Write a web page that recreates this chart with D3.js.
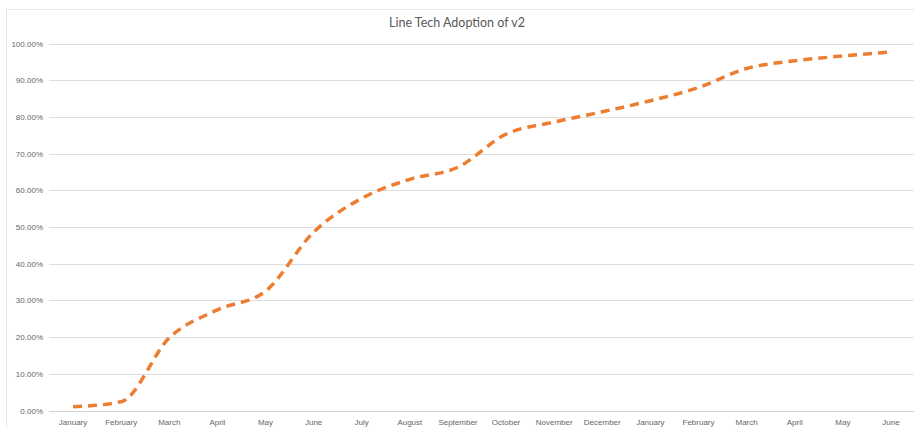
<!DOCTYPE html>
<html>
<head>
<meta charset="utf-8">
<script src="https://cdn.jsdelivr.net/npm/d3@7"></script>
<style>
  html, body { margin: 0; padding: 0; background: #fff; }
  svg { display: block; font-family: Lato, "Open Sans", "Liberation Sans", sans-serif; }
</style>
</head>
<body>
<svg id="chart" width="914" height="427"></svg>
<script>
// Month labels along the category axis (eighteen months, Jan through the following Jun)
const months = [
  "January", "February", "March", "April", "May", "June",
  "July", "August", "September", "October", "November", "December",
  "January", "February", "March", "April", "May", "June"
];
// Cumulative adoption share of v2, as a fraction
const adoption = [
  0.010, 0.024, 0.198, 0.274, 0.325, 0.486,
  0.578, 0.630, 0.663, 0.753, 0.786, 0.814,
  0.844, 0.880, 0.932, 0.953, 0.966, 0.977
];
// Value axis ticks
const yTicks = [0, 0.1, 0.2, 0.3, 0.4, 0.5, 0.6, 0.7, 0.8, 0.9, 1.0];

const svg = d3.select("#chart");
const W = 914, H = 427;
const plot = { left: 49, right: 915, top: 43.5, bottom: 410.5 };

// Chart area outline
svg.append("path")
  .attr("d", `M6.5,${H} V9.5 H${W}`)
  .attr("fill", "none")
  .attr("stroke", "#e6e6e6")
  .attr("stroke-width", 1);

const x = d3.scaleBand()
  .domain(d3.range(months.length))
  .range([plot.left, plot.right]);

const y = d3.scaleLinear()
  .domain([0, 1])
  .range([plot.bottom, plot.top]);

// Horizontal gridlines
svg.append("g")
  .selectAll("line")
  .data(yTicks)
  .join("line")
  .attr("x1", plot.left)
  .attr("x2", W)
  .attr("y1", d => Math.round(y(d)) + 0.5)
  .attr("y2", d => Math.round(y(d)) + 0.5)
  .attr("stroke", d => d === 0 ? "#d0d0d0" : "#dedede")
  .attr("stroke-width", 1);

// Y axis labels
const yAxis = d3.axisLeft(y)
  .tickValues(yTicks)
  .tickFormat(d => (d * 100).toFixed(2) + "%")
  .tickSize(0)
  .tickPadding(6);
const gy = svg.append("g")
  .attr("transform", `translate(${plot.left},0)`)
  .call(yAxis);
gy.select(".domain").remove();
gy.selectAll("text")
  .attr("fill", "#666666")
  .style("font-size", "8px");

// X axis labels
const xAxis = d3.axisBottom(x)
  .tickFormat(i => months[i])
  .tickSize(0)
  .tickPadding(9);
const gx = svg.append("g")
  .attr("transform", `translate(0,${plot.bottom})`)
  .call(xAxis);
gx.select(".domain").remove();
gx.selectAll("text")
  .attr("fill", "#666666")
  .style("font-size", "8px");

// Title
svg.append("text")
  .attr("x", 457)
  .attr("y", 27)
  .attr("text-anchor", "middle")
  .attr("fill", "#595959")
  .style("font-size", "12.5px")
  .text("Line Tech Adoption of v2");

// Smoothed dashed adoption line
const line = d3.line()
  .x((d, i) => x(i) + x.bandwidth() / 2)
  .y(d => y(d))
  .curve(d3.curveMonotoneX);

svg.append("path")
  .datum(adoption)
  .attr("d", line)
  .attr("fill", "none")
  .attr("stroke", "#ED7D31")
  .attr("stroke-width", 3.5)
  .attr("stroke-dasharray", "9,6")
  .attr("stroke-linecap", "butt");
</script>
</body>
</html>
